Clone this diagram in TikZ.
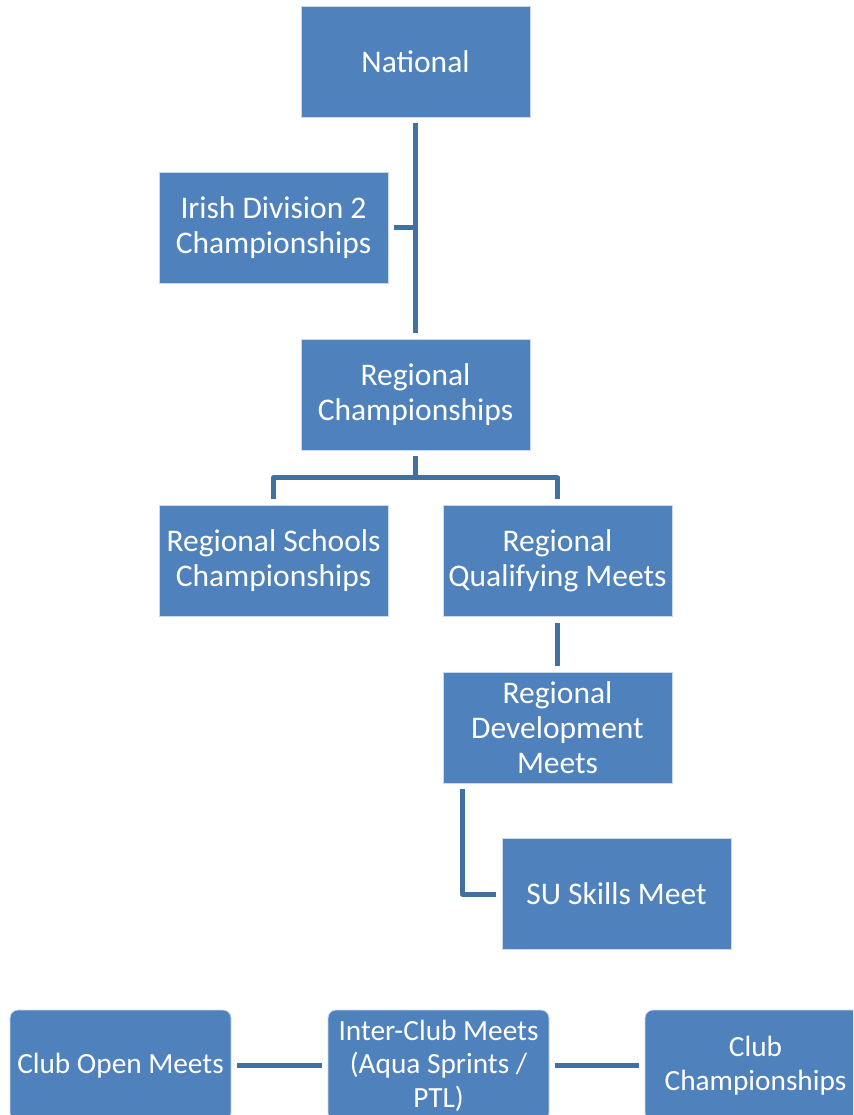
\documentclass[tikz,border=0pt]{standalone}
\usepackage{fontspec}
\setmainfont{Carlito}
\definecolor{boxblue}{HTML}{4F81BD}
\definecolor{linkblue}{HTML}{41719C}

\begin{document}
\begin{tikzpicture}[node distance=166.5pt,
    box/.style={rectangle,fill=boxblue,draw=white!70!boxblue,line width=0.8pt,
      text=white,minimum width=229pt,minimum height=111pt,align=center,
      inner sep=2pt,font=\fontsize{31.5}{35}\selectfont},
    clubbox/.style={box,rounded corners=8pt,minimum width=221pt,
      font=\fontsize{29.3}{33.5}\selectfont},
    link/.style={draw=linkblue,line width=5pt,line join=round,
      shorten <=6pt,shorten >=6pt}]
      \useasboundingbox (0,0) rectangle (853pt,-1115pt);
      \clip (0,0) rectangle (853pt,-1115pt);

      \node[box] at (415.5pt,-61.5pt) (1) {National};
      \node[box,below of=1,xshift=-142pt] (2) {Irish Division 2\\Championships};
      \node[box,below of=2,xshift=142pt] (3) {Regional\\Championships};
      \node[box,below of=3,xshift=-142pt] (4) {Regional Schools\\Championships};
      \node[box,below of=3,xshift=142pt] (5) {Regional\\Qualifying Meets};
      \node[box,below of=5] (6) {Regional\\Development\\Meets};
      \node[box,below of=6,xshift=59pt] (7) {SU Skills Meet};
      \node[clubbox] at (120.5pt,-1065.5pt) (8) {Club Open Meets};
      \node[clubbox,right of=8,xshift=151.5pt] (9) {Inter-Club Meets\\(Aqua Sprints /\\PTL)};
      \node[clubbox,right of=9,xshift=150.5pt] (10) {Club\\Championships};

      \draw[link] (1) -- (3);
      \draw[link,shorten >=0pt] (2.east) -- (2.east -| 1.south);
      \draw[link] (3.south) -- ++(0,-27.5pt) -| (4.north);
      \draw[link] (3.south) -- ++(0,-27.5pt) -| (5.north);
      \draw[link] (5) -- (6);
      \draw[link] ([xshift=20pt]6.south west) |- (7.west);
      \draw[link] (8) -- (9);
      \draw[link] (9) -- (10);
    \end{tikzpicture}
\end{document}
